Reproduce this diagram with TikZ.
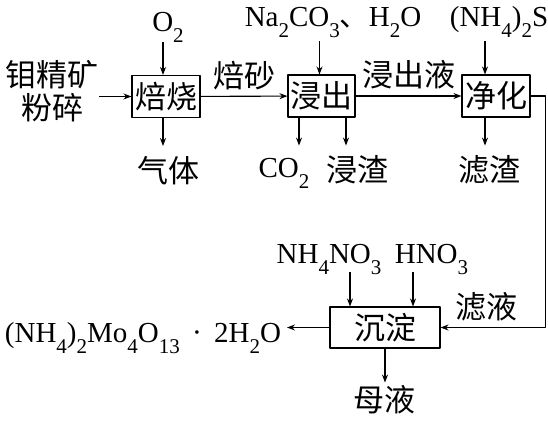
\documentclass[tikz,border=0pt]{standalone}
\usepackage{fontspec}
\setmainfont{Liberation Serif}
\newfontfamily\cjk{Noto Sans CJK SC}
\usetikzlibrary{arrows.meta}
\newcommand\lo[1]{\raisebox{-.4em}{\fontsize{21}{21}\selectfont #1}}
\newcommand\cdotmark{\raisebox{4.5pt}{\fontsize{15}{15}\selectfont •}}

\begin{document}
\begin{tikzpicture}[x=1pt,y=-1pt,line width=1.1pt,line join=round,>={Stealth[length=8pt,width=6pt]},
	font=\fontsize{29}{31}\selectfont,
	box/.style={draw,inner sep=0pt,minimum height=42pt},
	zh/.style={font=\cjk\fontsize{31}{33}\selectfont,inner sep=0pt},
	chem/.style={inner sep=0pt,anchor=base}]
	\useasboundingbox (0,0) rectangle (548,421);
	% steps
	\node[box,zh,minimum width=68pt] (roast) at (166,96.5) {焙烧};
	\node[box,zh,minimum width=67pt] (leach) at (321.5,96) {浸出};
	\node[box,zh,minimum width=68pt] (purify) at (496,96) {净化};
	\node[box,zh,minimum width=110pt,minimum height=41pt] (precip) at (385,327.5) {沉淀};
	% reagents and products
	\node[zh,align=center] (ore) at (52,91) {钼精矿\\粉碎};
	\node[chem] (o2) at (168,31) {O\lo{2}};
	\node[chem] (soda) at (333,26) {Na\lo{2}CO\lo{3}{\cjk 、}H\lo{2}O};
	\node[chem] (sulf) at (499,26) {(NH\lo{4})\lo{2}S};
	\node[zh] (gas) at (168,171) {气体};
	\node[chem] (co2) at (284,177) {CO\lo{2}};
	\node[zh] (slag) at (357,170) {浸渣};
	\node[zh] (resid) at (489,170) {滤渣};
	\node[chem] (nitr) at (329,263) {NH\lo{4}NO\lo{3}};
	\node[chem] (acid) at (431.5,263) {HNO\lo{3}};
	\node[chem,anchor=base east,outer sep=6pt] (prod) at (287,342) {(NH\lo{4})\lo{2}Mo\lo{4}O\lo{13}\hspace{.5em}\cdotmark\hspace{.5em}2H\lo{2}O};
	\node[zh] (mother) at (384,400) {母液};
	% flow
	\draw[->] (ore.east |- roast) -- (roast);
	\draw[->] (roast) -- (leach) node[zh,above=6pt,midway]{焙砂};
	\draw[->] (leach) -- (purify) node[zh,above=6pt,midway]{浸出液};
	\draw[->] (purify.east) -- ++(15,0) |- (precip.east) node[zh,above=6pt,pos=.78]{滤液};
	\draw[->] (precip.west) -- (prod.east |- precip.west);
	\foreach \s/\d in {roast/-3,leach/-2,purify/-11}
	\draw[<-] ([xshift=\d pt]\s.north) -- ++(0,-33);
	\foreach \s/\d in {roast/-3,leach/-22.5,leach/24.5,purify/-11}
	\draw[->] ([xshift=\d pt]\s.south) -- ++(0,28);
	\foreach \d in {-35,28}
	\draw[<-] ([xshift=\d pt]precip.north) -- ++(0,-34);
	\draw[->] (precip.south) -- ++(0,34);
\end{tikzpicture}
\end{document}
